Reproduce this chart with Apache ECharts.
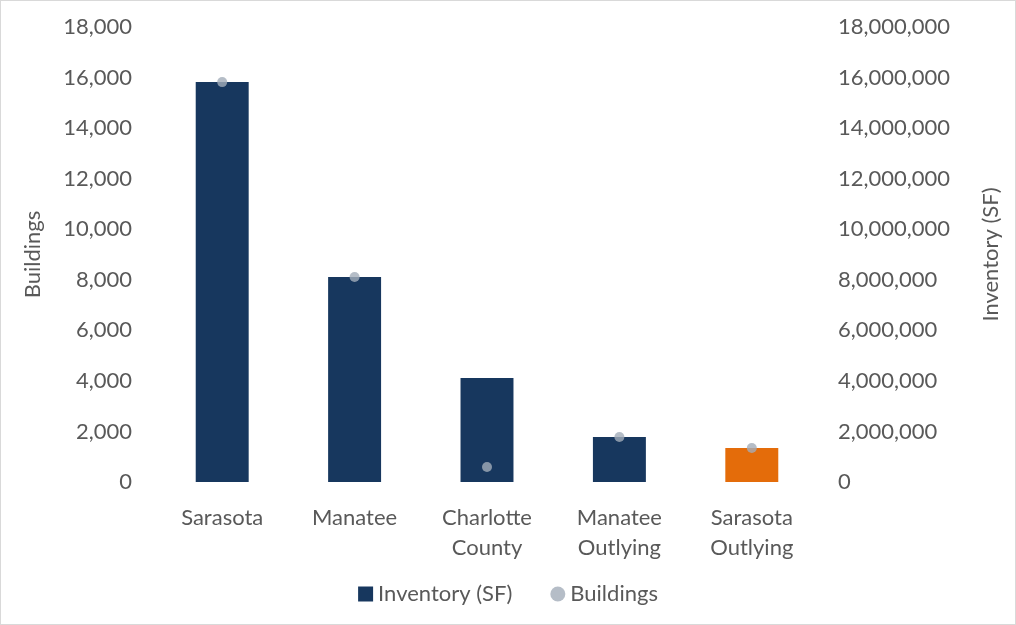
<!DOCTYPE html>
<html>
<head>
<meta charset="utf-8">
<script src="https://cdn.jsdelivr.net/npm/echarts@6/dist/echarts.min.js"></script>
<style>
  html, body { margin: 0; padding: 0; background: #fff; }
  #chart {
    width: 1014px;
    height: 623px;
    border: 1px solid #d9d9d9;
  }
</style>
</head>
<body>
<div id="chart"></div>
<script>
  // categories and values
  var categories = ['Sarasota', 'Manatee', 'Charlotte\nCounty', 'Manatee\nOutlying', 'Sarasota\nOutlying'];
  var inventorySF = [15820000, 8110000, 4110000, 1780000, 1345000];
  var buildings = [15820, 8110, 590, 1780, 1345];
  var barColors = ['#17375e', '#17375e', '#17375e', '#17375e', '#e46c0a'];

  var font = 'Lato, "Open Sans", sans-serif';
  var txt = '#595959';
  var fs = 22;

  var myChart = echarts.init(document.getElementById('chart'));

  var option = {
    backgroundColor: '#fff',
    textStyle: { fontFamily: font },
    legend: {
      bottom: 14,
      left: 'center',
      itemGap: 38,
      itemWidth: 15,
      itemHeight: 15,
      textStyle: { color: txt, fontSize: fs, fontFamily: font },
      data: [
        { name: 'Inventory (SF)', icon: 'rect', itemStyle: { color: '#17375e' } },
        { name: 'Buildings', icon: 'circle', itemStyle: { color: '#a3acb9' } }
      ]
    },
    grid: {
      left: 155,
      right: 197,
      top: 26,
      bottom: 142
    },
    xAxis: {
      type: 'category',
      data: categories,
      axisLine: { show: false },
      axisTick: { show: false },
      axisLabel: {
        color: txt,
        fontSize: fs,
        fontFamily: font,
        margin: 21,
        lineHeight: 30,
        interval: 0
      }
    },
    yAxis: [{
      type: 'value',
      name: 'Buildings',
      nameLocation: 'middle',
      nameGap: 112,
      nameRotate: 90,
      nameTextStyle: { color: txt, fontSize: fs, fontFamily: font },
      min: 0,
      max: 18000,
      interval: 2000,
      splitLine: { show: false },
      axisLine: { show: false },
      axisTick: { show: false },
      axisLabel: {
        color: txt,
        fontSize: fs,
        fontFamily: font,
        margin: 24,
        formatter: function (v) { return v.toLocaleString('en-US'); }
      }
    }, {
      type: 'value',
      name: 'Inventory (SF)',
      nameLocation: 'middle',
      nameGap: 162,
      nameRotate: 90,
      nameTextStyle: { color: txt, fontSize: fs, fontFamily: font },
      min: 0,
      max: 18000000,
      interval: 2000000,
      splitLine: { show: false },
      axisLine: { show: false },
      axisTick: { show: false },
      axisLabel: {
        color: txt,
        fontSize: fs,
        fontFamily: font,
        margin: 20,
        formatter: function (v) { return v.toLocaleString('en-US'); }
      }
    }],
    series: [{
      name: 'Inventory (SF)',
      type: 'bar',
      yAxisIndex: 1,
      barWidth: '40%',
      itemStyle: { color: '#17375e' },
      data: inventorySF.map(function (v, i) {
        return { value: v, itemStyle: { color: barColors[i] } };
      }),
      z: 1
    }, {
      name: 'Buildings',
      type: 'scatter',
      yAxisIndex: 0,
      symbol: 'circle',
      symbolSize: 10,
      itemStyle: { color: '#a3acb9' },
      data: buildings,
      z: 3
    }]
  };

  myChart.setOption(option);
</script>
</body>
</html>
